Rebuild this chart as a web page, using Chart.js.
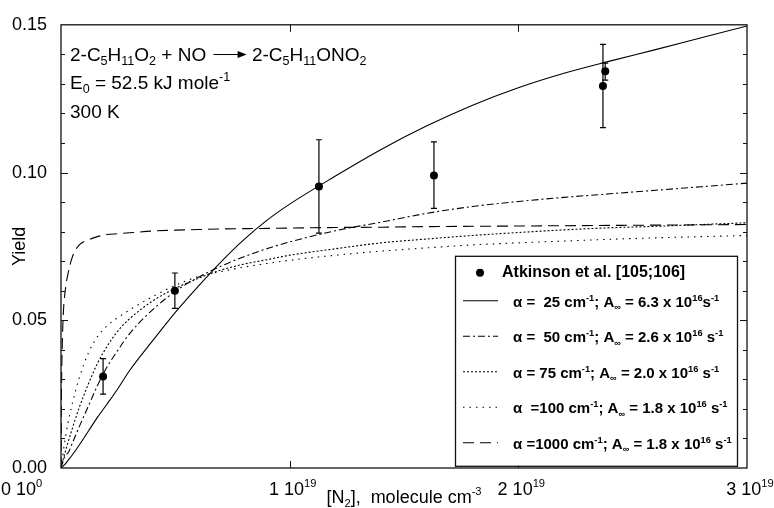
<!DOCTYPE html>
<html>
<head>
<meta charset="utf-8">
<script src="https://cdn.jsdelivr.net/npm/chart.js@4.4.1/dist/chart.umd.min.js"></script>
<style>
  html, body { margin: 0; padding: 0; background: #fff; }
</style>
</head>
<body>
<canvas id="yield-chart" width="774" height="508"></canvas>
<script>
const FONT = "'Liberation Sans', Arial, sans-serif";

// [N2] grid shared by the model curves (molecule cm-3)
const nConc = [0, 0.002e19, 0.005e19, 0.01e19, 0.02e19, 0.03e19, 0.05e19, 0.08e19, 0.12e19, 0.16e19,
  0.2e19, 0.25e19, 0.3e19, 0.4e19, 0.5e19, 0.6e19, 0.7e19, 0.8e19, 0.9e19, 1.0e19,
  1.2e19, 1.4e19, 1.6e19, 1.8e19, 2.0e19, 2.2e19, 2.4e19, 2.6e19, 2.8e19, 3.0e19];

// model yields
const yieldA25 = [0, 0.0001, 0.0003, 0.0007, 0.0015, 0.0025, 0.0045, 0.0078, 0.0125, 0.0172,
  0.0215, 0.027, 0.033, 0.043, 0.0527, 0.0615, 0.0698, 0.0773, 0.0838, 0.0893,
  0.0988, 0.1078, 0.1158, 0.1228, 0.1287, 0.1336, 0.1377, 0.1416, 0.1456, 0.1496];
const yieldA50 = [0, 0.0005, 0.0012, 0.0025, 0.0045, 0.005, 0.0085, 0.014, 0.021, 0.028,
  0.034, 0.040, 0.0455, 0.0535, 0.0598, 0.0645, 0.0683, 0.0715, 0.0742, 0.0765,
  0.0803, 0.0832, 0.0862, 0.0885, 0.0902, 0.0916, 0.0928, 0.094, 0.0952, 0.0964];
const yieldA75 = [0, 0.0006, 0.0015, 0.003, 0.0058, 0.0085, 0.0135, 0.0205, 0.0285, 0.0355,
  0.041, 0.0465, 0.0505, 0.0565, 0.0608, 0.0642, 0.067, 0.069, 0.0705, 0.072,
  0.0742, 0.0762, 0.0775, 0.0787, 0.0797, 0.0806, 0.0813, 0.0818, 0.0824, 0.083];
const yieldA100 = [0, 0.001, 0.0025, 0.0055, 0.0105, 0.015, 0.022, 0.0305, 0.039, 0.0445,
  0.048, 0.051, 0.0535, 0.058, 0.0618, 0.0648, 0.0665, 0.068, 0.0692, 0.0703,
  0.072, 0.0734, 0.0745, 0.0755, 0.0762, 0.0768, 0.0774, 0.0779, 0.0783, 0.0787];
const yieldA1000 = [0, 0.025, 0.040, 0.052, 0.061, 0.0655, 0.0715, 0.0755, 0.0772, 0.0783,
  0.079, 0.0793, 0.0796, 0.0802, 0.0805, 0.0807, 0.0809, 0.081, 0.0811, 0.0812,
  0.0814, 0.0815, 0.0817, 0.0818, 0.0819, 0.082, 0.0821, 0.0822, 0.0823, 0.0824];

// Atkinson et al. measurements with error bars
const atkinsonConc = [0.184e19, 0.498e19, 1.128e19, 1.631e19, 2.37e19, 2.38e19];
const atkinsonYield = [0.031, 0.060, 0.0953, 0.099, 0.1293, 0.1343];
const atkinsonLow = [0.025, 0.054, 0.0795, 0.0879, 0.1152, 0.1313];
const atkinsonHigh = [0.037, 0.066, 0.1111, 0.1104, 0.1434, 0.1370];

const xTickValues = [0, 1e19, 2e19, 3e19];
const xTickBase = ['0 10', '1 10', '2 10', '3 10'];
const xTickPower = ['0', '19', '19', '19'];

const seriesLabels = [
  'α =  25 cm⁻¹; A∞ = 6.3 x 10¹⁶s⁻¹',
  'α =  50 cm⁻¹; A∞ = 2.6 x 10¹⁶ s⁻¹',
  'α = 75 cm⁻¹; A∞ = 2.0 x 10¹⁶ s⁻¹',
  'α  =100 cm⁻¹; A∞ = 1.8 x 10¹⁶ s⁻¹',
  'α =1000 cm⁻¹; A∞ = 1.8 x 10¹⁶ s⁻¹'
];
const legendParts = [
  [['α =  25 cm', ''], ['-1', 'sup'], ['; A', ''], ['∞', 'sub'], [' = 6.3 x 10', ''], ['16', 'sup'], ['s', ''], ['-1', 'sup']],
  [['α =  50 cm', ''], ['-1', 'sup'], ['; A', ''], ['∞', 'sub'], [' = 2.6 x 10', ''], ['16', 'sup'], [' s', ''], ['-1', 'sup']],
  [['α = 75 cm', ''], ['-1', 'sup'], ['; A', ''], ['∞', 'sub'], [' = 2.0 x 10', ''], ['16', 'sup'], [' s', ''], ['-1', 'sup']],
  [['α  =100 cm', ''], ['-1', 'sup'], ['; A', ''], ['∞', 'sub'], [' = 1.8 x 10', ''], ['16', 'sup'], [' s', ''], ['-1', 'sup']],
  [['α =1000 cm', ''], ['-1', 'sup'], ['; A', ''], ['∞', 'sub'], [' = 1.8 x 10', ''], ['16', 'sup'], [' s', ''], ['-1', 'sup']]
];
const curveDashes = [[], [7, 3, 2, 3], [2, 2], [1.5, 5], [11, 6]];

const annotationLines = [
  [['2-C', ''], ['5', 'sub'], ['H', ''], ['11', 'sub'], ['O', ''], ['2', 'sub'], [' + NO ', ''], ['', 'arrow'],
   [' 2-C', ''], ['5', 'sub'], ['H', ''], ['11', 'sub'], ['ONO', ''], ['2', 'sub']],
  [['E', ''], ['0', 'sub'], [' = 52.5 kJ mole', ''], ['-1', 'sup']],
  [['300 K', '']]
];
const xTitleParts = [['[N', ''], ['2', 'sub'], ['],  molecule cm', ''], ['-3', 'sup']];

// text with sub/superscripts on the canvas
function richWidth(ctx, parts, size, weight, small) {
  let w = 0;
  parts.forEach(([t, kind]) => {
    if (kind === 'arrow') { w += size * 1.85; return; }
    ctx.font = weight + ' ' + (kind ? size * small : size) + 'px ' + FONT;
    w += ctx.measureText(t).width;
  });
  return w;
}
function drawRich(ctx, parts, x, y, size, weight, align, small) {
  small = small || 0.62;
  let cx = x;
  if (align === 'center') cx -= richWidth(ctx, parts, size, weight, small) / 2;
  if (align === 'right') cx -= richWidth(ctx, parts, size, weight, small);
  ctx.fillStyle = '#000';
  ctx.textAlign = 'left';
  ctx.textBaseline = 'alphabetic';
  parts.forEach(([t, kind]) => {
    if (kind === 'arrow') {
      const w = size * 1.85, ay = y - size * 0.33;
      ctx.strokeStyle = '#000';
      ctx.lineWidth = 1;
      ctx.beginPath();
      ctx.moveTo(cx + 2, ay);
      ctx.lineTo(cx + w - 8, ay);
      ctx.stroke();
      ctx.beginPath();
      ctx.moveTo(cx + w, ay);
      ctx.lineTo(cx + w - 9, ay - 3.5);
      ctx.lineTo(cx + w - 9, ay + 3.5);
      ctx.closePath();
      ctx.fill();
      cx += w;
      return;
    }
    const s = kind ? size * small : size;
    const dy = kind === 'sub' ? size * 0.22 : kind === 'sup' ? -size * 0.42 : 0;
    ctx.font = weight + ' ' + s + 'px ' + FONT;
    ctx.fillText(t, cx, y + dy);
    cx += ctx.measureText(t).width;
  });
}

const toXY = ys => nConc.map((x, i) => ({ x: x, y: ys[i] }));
const curve = (i, ys) => ({
  label: seriesLabels[i],
  data: toXY(ys),
  borderColor: '#000',
  borderWidth: 1.1,
  borderDash: curveDashes[i],
  pointRadius: 0,
  fill: false,
  cubicInterpolationMode: 'monotone'
});

const framePlugin = {
  id: 'frame',
  afterDatasetsDraw(chart) {
    const { ctx, chartArea: a, scales: { x, y } } = chart;
    ctx.save();
    // error bars
    ctx.strokeStyle = '#000';
    ctx.lineWidth = 1.2;
    atkinsonConc.forEach((c, i) => {
      const px = x.getPixelForValue(c);
      const y1 = y.getPixelForValue(atkinsonLow[i]);
      const y2 = y.getPixelForValue(atkinsonHigh[i]);
      ctx.beginPath();
      ctx.moveTo(px, y1); ctx.lineTo(px, y2);
      ctx.moveTo(px - 3, y1); ctx.lineTo(px + 3, y1);
      ctx.moveTo(px - 3, y2); ctx.lineTo(px + 3, y2);
      ctx.stroke();
    });
    // frame
    ctx.strokeStyle = '#111';
    ctx.lineWidth = 1.3;
    ctx.strokeRect(a.left, a.top, a.right - a.left, a.bottom - a.top);
    // inner ticks
    ctx.lineWidth = 1;
    ctx.beginPath();
    for (let k = 1; k < 15; k++) {
      const py = Math.round(y.getPixelForValue(k / 100)) + 0.5;
      const len = k % 5 === 0 ? 7 : 4;
      ctx.moveTo(a.left, py); ctx.lineTo(a.left + len, py);
      ctx.moveTo(a.right, py); ctx.lineTo(a.right - len, py);
    }
    xTickValues.slice(1, -1).forEach(v => {
      const px = Math.round(x.getPixelForValue(v)) + 0.5;
      ctx.moveTo(px, a.bottom); ctx.lineTo(px, a.bottom - 7);
      ctx.moveTo(px, a.top); ctx.lineTo(px, a.top + 7);
    });
    ctx.stroke();
    ctx.restore();
  },
  afterDraw(chart) {
    const { ctx, chartArea: a, scales: { x } } = chart;
    ctx.save();
    // x tick labels and title
    xTickValues.forEach((v, i) => {
      const parts = [[xTickBase[i], ''], [xTickPower[i], 'sup']];
      if (i === 0) drawRich(ctx, parts, 1, a.bottom + 27, 18, 'normal', 'left');
      else drawRich(ctx, parts, x.getPixelForValue(v) + 3, a.bottom + 27, 18, 'normal', 'center');
    });
    drawRich(ctx, xTitleParts, (a.left + a.right) / 2, a.bottom + 35, 18, 'normal', 'center');
    // annotations
    annotationLines.forEach((parts, i) => {
      drawRich(ctx, parts, a.left + 9, a.top + [36, 64, 93][i], 19, 'normal', 'left', 0.66);
    });
    // legend box
    const bx = a.right - 292, by = a.top + 231, bw = 282, bh = 210;
    ctx.fillStyle = '#fff';
    ctx.fillRect(bx, by, bw, bh);
    ctx.strokeStyle = '#111';
    ctx.lineWidth = 1.3;
    ctx.strokeRect(bx + 0.5, by + 0.5, bw, bh);
    ctx.fillStyle = '#000';
    ctx.beginPath();
    ctx.arc(bx + 25, by + 17, 4, 0, Math.PI * 2);
    ctx.fill();
    drawRich(ctx, [['Atkinson et al. [105;106]', '']], bx + 47, by + 21, 16, 'bold', 'left');
    legendParts.forEach((parts, i) => {
      const ry = by + 45 + i * 35.5;
      ctx.strokeStyle = '#000';
      ctx.lineWidth = 1.1;
      ctx.setLineDash(curveDashes[i]);
      ctx.beginPath();
      ctx.moveTo(bx + 8, ry); ctx.lineTo(bx + 43, ry);
      ctx.stroke();
      ctx.setLineDash([]);
      drawRich(ctx, parts, bx + 58, ry + 6, 15, 'bold', 'left');
    });
    ctx.restore();
  }
};

const chart = new Chart(document.getElementById('yield-chart'), {
  type: 'line',
  data: {
    datasets: [
      {
        label: 'Atkinson et al. [105;106]',
        data: atkinsonConc.map((x, i) => ({ x: x, y: atkinsonYield[i] })),
        showLine: false,
        pointRadius: 4,
        pointBackgroundColor: '#000',
        pointBorderColor: '#000',
        pointBorderWidth: 0
      },
      curve(0, yieldA25),
      curve(1, yieldA50),
      curve(2, yieldA75),
      curve(3, yieldA100),
      curve(4, yieldA1000)
    ]
  },
  options: {
    responsive: false,
    animation: false,
    devicePixelRatio: 1,
    layout: { padding: { top: 22, right: 27, bottom: 40, left: 0 } },
    plugins: {
      legend: { display: false },
      tooltip: { enabled: false }
    },
    scales: {
      x: { type: 'linear', display: false, min: 0, max: 3e19 },
      y: {
        type: 'linear',
        min: 0,
        max: 0.15,
        afterFit(scale) { scale.width = 61; },
        border: { display: false },
        grid: { display: false, drawTicks: false },
        ticks: {
          stepSize: 0.05,
          padding: 14,
          color: '#000',
          font: { family: FONT, size: 18 },
          callback: v => v.toFixed(2)
        },
        title: {
          display: true,
          text: 'Yield',
          color: '#000',
          font: { family: FONT, size: 18 },
          padding: { top: 9, bottom: 0 }
        }
      }
    }
  },
  plugins: [framePlugin]
});
</script>
</body>
</html>
